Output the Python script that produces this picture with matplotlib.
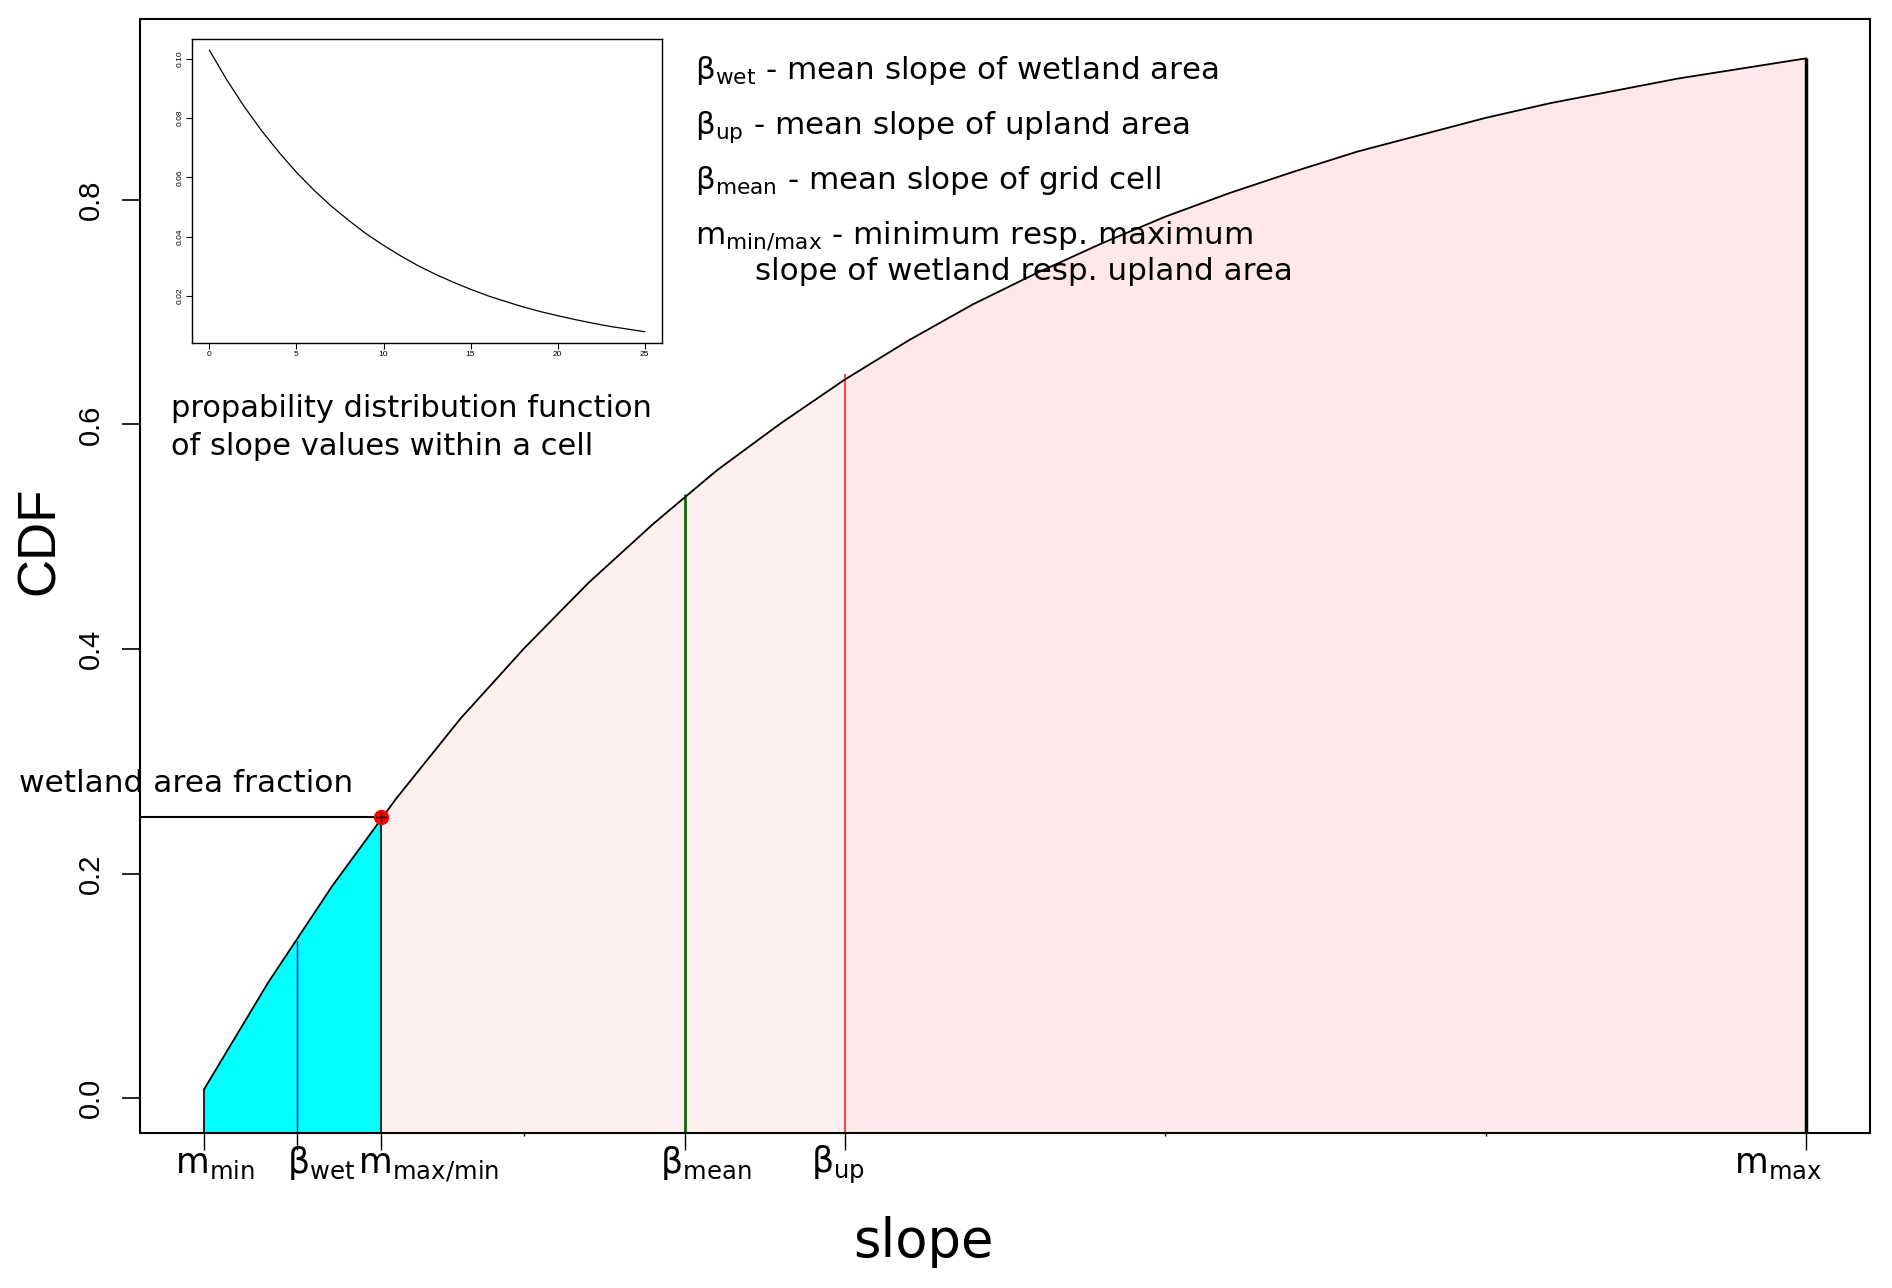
import numpy as np
import matplotlib.pyplot as plt

plt.rcParams['font.family'] = ['DejaVu Sans']
plt.rcParams['mathtext.default'] = 'regular'

# CDF of slope values within a cell
slope_x = [0, 1, 2, 3, 4, 5, 6, 7, 8, 9, 10, 11, 12,
           13, 14, 15, 16, 17, 18, 19, 20, 21, 22, 23, 24, 25]
cdf_y = [0.008, 0.103, 0.189, 0.267, 0.338, 0.401, 0.459, 0.511, 0.559,
         0.601, 0.640, 0.675, 0.707, 0.735, 0.761, 0.785, 0.806, 0.825,
         0.843, 0.858, 0.873, 0.886, 0.897, 0.908, 0.917, 0.926]

# pdf shown in the inset
pdf_y = [0.1028, 0.0928, 0.0838, 0.0757, 0.0684, 0.0617, 0.0557, 0.0503,
         0.0455, 0.0410, 0.0371, 0.0335, 0.0302, 0.0273, 0.0247, 0.0223,
         0.0201, 0.0182, 0.0164, 0.0148, 0.0134, 0.0121, 0.0109, 0.0098,
         0.0089, 0.0080]

# marked slope values and the CDF height of their lines
m_min, beta_wet, m_maxmin, beta_mean, beta_up, m_max = 0, 1.45, 2.76, 7.5, 10, 25
wet_frac = 0.25
beta_wet_top = 0.140
beta_mean_top = 0.538
beta_up_top = 0.645

tick_pos = [m_min, beta_wet, m_maxmin, beta_mean, beta_up, m_max]
tick_txt = [r'm$_{min}$', r'β$_{wet}$', r'm$_{max/min}$',
            r'β$_{mean}$', r'β$_{up}$', r'm$_{max}$']
tick_dx = [-29, -10, -23, -25, -34, -72]   # pixel shift of each label

y_ticks = [0.0, 0.2, 0.4, 0.6, 0.8]
y_bot, y_top = -0.031, 0.961

sx = np.array(slope_x, dtype=float)
cy = np.array(cdf_y)

fig = plt.figure(figsize=(18.92, 12.88), dpi=100)
ax = fig.add_axes([0.074, 0.1203, 0.9144, 0.8649])

# wetland part (cyan)
m = (sx >= m_min) & (sx < m_maxmin)
xs = np.r_[sx[m], m_maxmin]
ys = np.r_[cy[m], wet_frac]
ax.fill_between(xs, ys, y_bot, color='#00ffff', lw=0)

# upland part (pink), lighter up to beta_up
m = (sx > m_maxmin) & (sx <= beta_up)
xs = np.r_[m_maxmin, sx[m]]
ys = np.r_[wet_frac, cy[m]]
ax.fill_between(xs, ys, y_bot, color='#fff0f0', lw=0)
m = (sx >= beta_up) & (sx <= m_max)
ax.fill_between(sx[m], cy[m], y_bot, color='#ffe8e9', lw=0)

ax.plot(slope_x, cdf_y, color='black', lw=1.3, zorder=4)

# vertical markers
ax.vlines(m_min, y_bot, cdf_y[0], color='black', lw=1.2)
ax.vlines(beta_wet, y_bot, beta_wet_top, color='#0000ff', lw=1.0)
ax.vlines(m_maxmin, y_bot, wet_frac, color='black', lw=1.2)
ax.vlines(beta_mean, y_bot, beta_mean_top, color='#006400', lw=1.9)
ax.vlines(beta_up, y_bot, beta_up_top, color='#ff4040', lw=1.4)
ax.vlines(m_max, y_bot, cdf_y[-1], color='black', lw=2.5)

# wetland area fraction
ax.hlines(wet_frac, -1, m_maxmin, color='black', lw=1.5)
ax.plot(m_maxmin, wet_frac, 'o', color='red', ms=10, zorder=5)
ax.plot(m_maxmin, wet_frac, '+', color='black', ms=9, mew=1.0, zorder=6)

ax.set_xlim(-1, 26)
ax.set_ylim(y_bot, y_top)

ax.set_xticks(tick_pos, [''] * len(tick_pos))
ax.set_xticks([5, 15, 20], minor=True)
ax.tick_params(axis='x', which='major', length=12, width=1.0)
ax.tick_params(axis='x', which='minor', length=2, width=1.0)
for x, t, dx in zip(tick_pos, tick_txt, tick_dx):
    ax.annotate(t, xy=(x, 0), xycoords=('data', 'axes fraction'),
                xytext=(dx, -40), textcoords='offset pixels',
                ha='left', va='baseline', fontsize=25)

ax.set_yticks(y_ticks, ['%.1f' % v for v in y_ticks],
              rotation=90, va='center', family='Liberation Sans', fontsize=21)
ax.tick_params(axis='y', length=13, width=1.2, pad=12)

for s in ax.spines.values():
    s.set_linewidth(1.5)

fig.text(0.0211, 0.58, 'CDF', rotation=90, ha='center', va='center',
         family='Liberation Sans', fontsize=38)
fig.text(0.488, 0.024, 'slope', ha='center', va='baseline', fontsize=38)

# legend-like explanations
fs = 22.3
fig.text(0.3673, 0.9387, r'β$_{wet}$ - mean slope of wetland area', fontsize=fs, va='baseline')
fig.text(0.3673, 0.8960, r'β$_{up}$ - mean slope of upland area', fontsize=fs, va='baseline')
fig.text(0.3673, 0.8533, r'β$_{mean}$ - mean slope of grid cell', fontsize=fs, va='baseline')
fig.text(0.3673, 0.8113, r'm$_{min/max}$ - minimum resp. maximum', fontsize=fs, va='baseline')
fig.text(0.399, 0.7826, 'slope of wetland resp. upland area', fontsize=fs, va='baseline')
fig.text(0.0904, 0.6762, 'propability distribution function', fontsize=22, va='baseline')
fig.text(0.0904, 0.6467, 'of slope values within a cell', fontsize=22, va='baseline')
fig.text(0.010, 0.3851, 'wetland area fraction', fontsize=22.5, va='baseline')

# inset: pdf
axi = fig.add_axes([0.1015, 0.7337, 0.2484, 0.236])
axi.plot(slope_x, pdf_y, color='black', lw=0.9)
axi.set_xlim(-1, 26)
axi.set_ylim(0.0042, 0.1066)
axi.set_xticks([0, 5, 10, 15, 20, 25])
axi.set_yticks([0.02, 0.04, 0.06, 0.08, 0.10],
               ['0.02', '0.04', '0.06', '0.08', '0.10'], rotation=90, va='center')
axi.tick_params(length=4, width=0.8, labelsize=6, pad=2)
for lab in axi.get_xticklabels() + axi.get_yticklabels():
    lab.set_family('Liberation Sans')
for s in axi.spines.values():
    s.set_linewidth(1.0)

fig.savefig('out.png', dpi=100)
